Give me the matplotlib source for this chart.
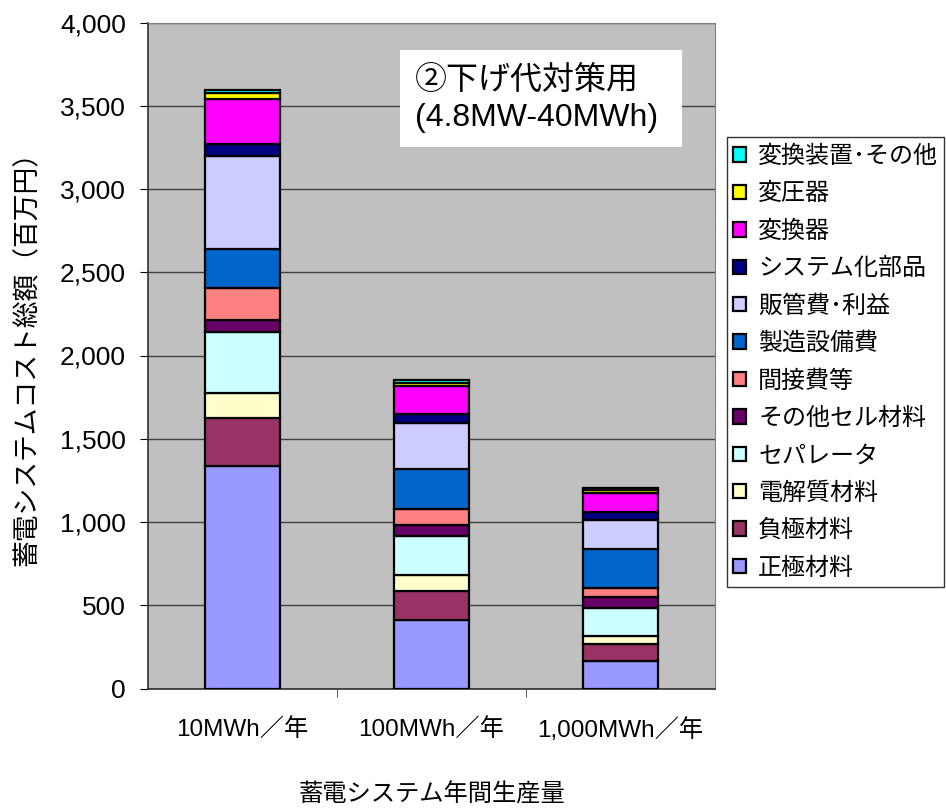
import matplotlib
matplotlib.use("Agg")
import matplotlib.pyplot as plt
import numpy as np

plt.rcParams['font.family'] = ['Noto Sans CJK JP', 'DejaVu Sans']
LATIN_FIRST = ['Liberation Sans', 'Noto Sans CJK JP', 'DejaVu Sans']

categories = ["10MWh／年", "100MWh／年", "1,000MWh／年"]

# cost components, bottom to top (million yen)
series_names = ["正極材料", "負極材料", "電解質材料", "セパレータ", "その他セル材料",
                "間接費等", "製造設備費", "販管費･利益", "システム化部品",
                "変換器", "変圧器", "変換装置･その他"]
cathode      = [1336, 410, 167]
anode        = [286, 176, 98]
electrolyte  = [150, 94, 52]
separator    = [372, 234, 165]
other_cell   = [69, 68, 69]
overhead     = [191, 96, 54]
equipment    = [233, 242, 231]
sga_profit   = [560, 276, 178]
system_parts = [71, 54, 44]
converter    = [274, 169, 118]
transformer  = [35, 16, 16]
conv_other   = [15, 18, 12]

series_values = [cathode, anode, electrolyte, separator, other_cell, overhead,
                 equipment, sga_profit, system_parts, converter, transformer, conv_other]
colors = ["#9999FF", "#993366", "#FFFFCC", "#CCFFFF", "#660066", "#FF8080",
          "#0066CC", "#CCCCFF", "#000080", "#FF00FF", "#FFFF00", "#00FFFF"]

yticks = [0, 500, 1000, 1500, 2000, 2500, 3000, 3500, 4000]
ytick_labels = ["0", "500", "1,000", "1,500", "2,000", "2,500", "3,000", "3,500", "4,000"]

fig = plt.figure(figsize=(9.46, 8.09), dpi=100)
ax = fig.add_axes([148/946, 1 - 688.5/809, 567/946, 666/809])
ax.set_facecolor("#C0C0C0")

x = np.arange(len(categories))
bottom = np.zeros(len(categories))
handles = []
for name, vals, col in zip(series_names, series_values, colors):
    b = ax.bar(x, vals, width=0.4, bottom=bottom, color=col, edgecolor="black",
               linewidth=1.6, label=name, zorder=3)
    handles.append(b)
    bottom += np.array(vals)

ax.set_xlim(-0.5, 2.5)
ax.set_ylim(0, 4000)
ax.set_yticks(yticks)
ax.set_yticklabels(ytick_labels, fontsize=19, family=LATIN_FIRST)
ax.yaxis.grid(True, color="#404040", linewidth=1.0, zorder=0)
ax.set_axisbelow(True)
ax.set_xticks(x)
ax.set_xticklabels(categories, fontsize=17.5, family=LATIN_FIRST)
ax.tick_params(axis="x", length=0, pad=21)
ax.set_xticks([0.5, 1.5], minor=True)
ax.tick_params(axis="x", which="minor", length=6, direction="out", color="#404040")
ax.tick_params(axis="y", length=6, direction="out", pad=10)

for side in ["top", "right"]:
    ax.spines[side].set_color("#808080")
for side in ["left", "bottom"]:
    ax.spines[side].set_color("#303030")
    ax.spines[side].set_linewidth(1.2)

# axis titles
fig.text(432/946, 1 - 795/809, "蓄電システム年間生産量", fontsize=17.5,
         ha="center", va="center")
fig.text(27/946, 1 - 352/809, "蓄電システムコスト総額（百万円）", fontsize=19.3,
         rotation=90, ha="center", va="center")

# scenario label in a white box
fig.patches.append(plt.Rectangle((400/946, 1 - 147/809), 282/946, 97/809,
                                 transform=fig.transFigure, facecolor="white",
                                 edgecolor="none", zorder=5))
fig.text(415/946, 1 - 80/809, "②下げ代対策用", fontsize=23,
         va="center", ha="left", zorder=6)
fig.text(415/946, 1 - 118/809, "(4.8MW-40MWh)", fontsize=23, family=LATIN_FIRST,
         va="center", ha="left", zorder=6)

leg = fig.legend(handles[::-1], series_names[::-1], loc="upper left",
                 bbox_to_anchor=(727/946, 1 - 137/809), fontsize=17.3,
                 frameon=True, fancybox=False, edgecolor="black",
                 handlelength=0.55, handleheight=0.55, handletextpad=0.5,
                 labelspacing=0.475, borderpad=0.25, borderaxespad=0)
leg.get_frame().set_linewidth(1.0)

fig.savefig("out.png", dpi=100)
